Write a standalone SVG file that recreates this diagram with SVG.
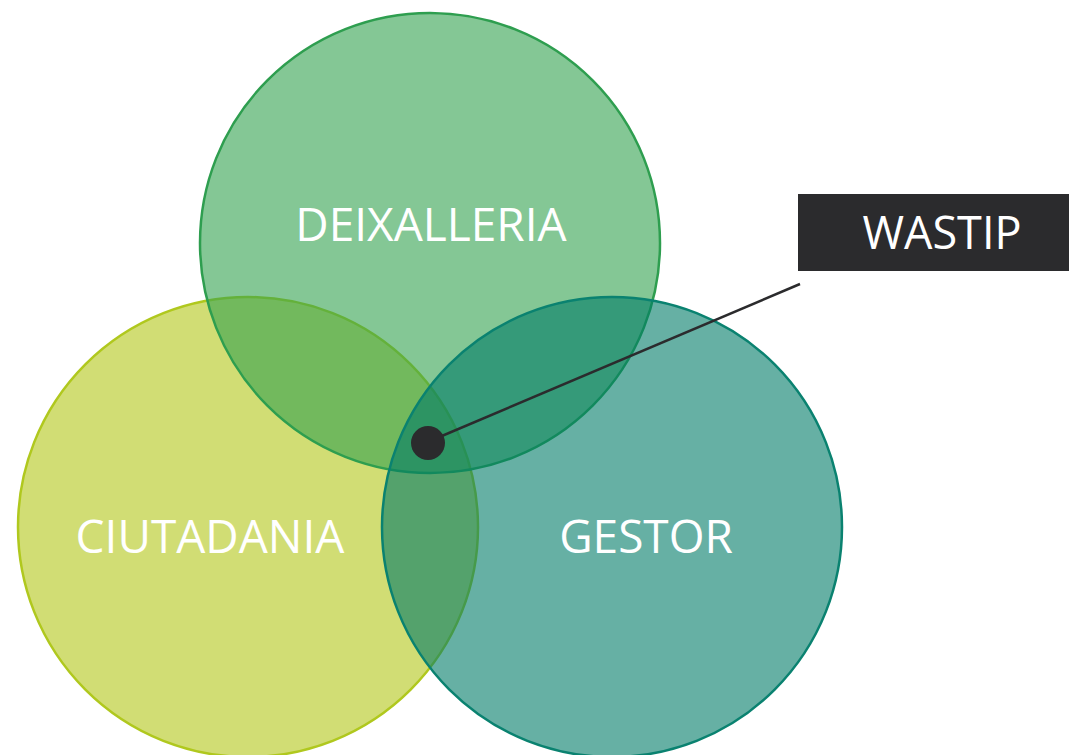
<svg xmlns="http://www.w3.org/2000/svg" width="1069" height="755" viewBox="0 0 1069 755">
<style>
.set{stroke-width:2.5}
.lbl{font-family:"Open Sans","Noto Sans","DejaVu Sans",sans-serif;fill:#ffffff;text-anchor:middle}
.big{font-size:46px}
.tag{font-size:45px}
</style>
<rect width="1069" height="755" fill="#ffffff"/>
<g id="ciutadania">
<circle class="set" cx="248" cy="527" r="230" fill="rgb(178,198,23)" fill-opacity="0.6" stroke="#b0c81e"/>
</g>
<g id="deixalleria">
<circle class="set" cx="430" cy="243" r="230" fill="rgb(50,162,78)" fill-opacity="0.6" stroke="#2e9e4f"/>
</g>
<g id="gestor">
<circle class="set" cx="612" cy="527" r="230" fill="rgb(0,123,103)" fill-opacity="0.6" stroke="#0a8270"/>
</g>
<g id="labels">
<text class="lbl big" x="431" y="241">DEIXALLERIA</text>
<text class="lbl big" x="210" y="553">CIUTADANIA</text>
<text class="lbl big" x="646" y="553">GESTOR</text>
</g>
<g id="connectors">
<line x1="430" y1="441" x2="800" y2="284" stroke="#2b2b2d" stroke-width="2.5"/>
</g>
<g id="center-dot">
<circle cx="428" cy="443" r="17" fill="#2b2b2d"/>
</g>
<g id="wastip">
<rect x="798" y="194" width="271" height="77" fill="#2b2b2d"/>
<text class="lbl tag" x="942" y="249">WASTIP</text>
</g>
</svg>
